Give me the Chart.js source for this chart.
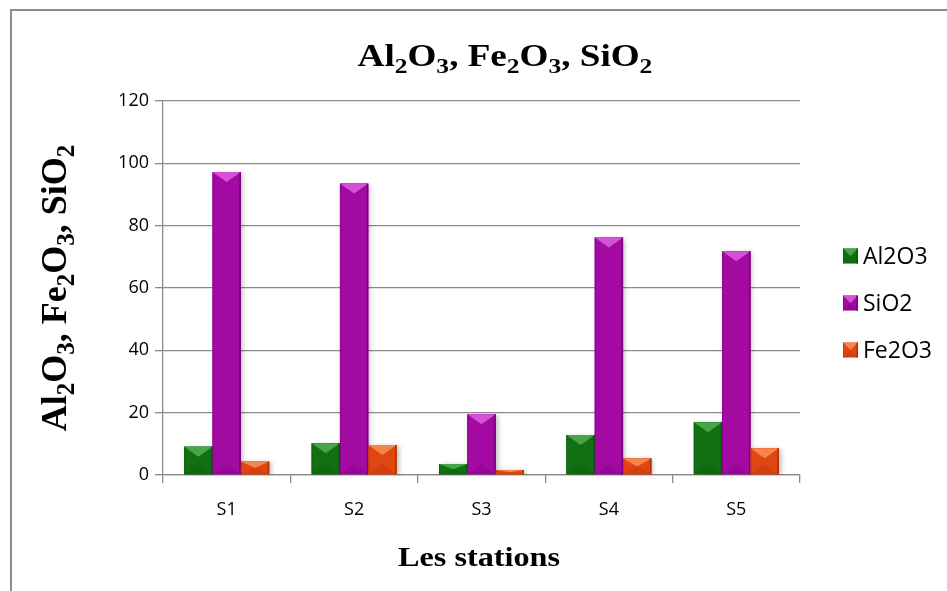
<!DOCTYPE html>
<html>
<head>
<meta charset="utf-8">
<script src="https://cdn.jsdelivr.net/npm/chart.js@4/dist/chart.umd.min.js"></script>
<style>
  html, body { margin: 0; padding: 0; background: #ffffff; }
  #c { display: block; }
</style>
</head>
<body>
<canvas id="c" width="947" height="591"></canvas>
<script>
// Oxide content per sampling station
const stations = ['S1', 'S2', 'S3', 'S4', 'S5'];
const al2o3 = [9.1, 10.2, 3.5, 12.8, 16.9];
const sio2  = [97.2, 93.5, 19.5, 76.2, 71.8];
const fe2o3 = [4.3, 9.6, 1.6, 5.3, 8.6];
const seriesNames = ['Al2O3', 'SiO2', 'Fe2O3'];
const yMin = 0, yMax = 120, yStep = 20;

// fill / highlight / shade for each series
const palette = [
  { fill: '#117011', light: '#46a546', dark: '#0a540a' },
  { fill: '#a20aa2', light: '#d452d4', dark: '#780078' },
  { fill: '#df4612', light: '#f5844f', dark: '#b03006' }
];

const GRID = '#8a8a8a';
const SERIF = '"Liberation Serif", "Times New Roman", serif';
const SANS = '"Open Sans", "Liberation Sans", sans-serif';

// Titles with chemical subscripts: [text, isSubscript]
const titleParts = [['Al',0],['2',1],['O',0],['3',1],[', Fe',0],['2',1],['O',0],['3',1],[', Si',0],['O',0],['2',1]];
const xTitle = 'Les stations';

function drawParts(ctx, parts, size, subSize, subDrop) {
  const mainFont = 'bold ' + size + 'px ' + SERIF;
  const subFont = 'bold ' + subSize + 'px ' + SERIF;
  let total = 0;
  parts.forEach(p => { ctx.font = p[1] ? subFont : mainFont; total += ctx.measureText(p[0]).width; });
  let x = -total / 2;
  ctx.textAlign = 'left';
  ctx.textBaseline = 'alphabetic';
  parts.forEach(p => {
    ctx.font = p[1] ? subFont : mainFont;
    ctx.fillText(p[0], x, p[1] ? subDrop : 0);
    x += ctx.measureText(p[0]).width;
  });
}

function bevelRect(ctx, l, t, r, b, c) {
  const w = r - l, h = b - t;
  if (h <= 0 || w <= 0) return;
  ctx.fillStyle = c.fill;
  ctx.fillRect(l, t, w, h);
  const d = Math.min(10, h / 2);
  const cx = (l + r) / 2;
  // top facet
  ctx.fillStyle = c.light;
  ctx.beginPath();
  ctx.moveTo(l, t); ctx.lineTo(r, t); ctx.lineTo(cx, t + d); ctx.closePath();
  ctx.fill();
  // bottom facet
  ctx.globalAlpha = 0.25;
  ctx.fillStyle = c.dark;
  ctx.beginPath();
  ctx.moveTo(l, b); ctx.lineTo(r, b); ctx.lineTo(cx, b - d); ctx.closePath();
  ctx.fill();
  ctx.globalAlpha = 1;
  // edges
  ctx.fillStyle = c.dark;
  ctx.fillRect(r - 1.5, t, 1.5, h);
  ctx.globalAlpha = 0.5;
  ctx.fillRect(l, t, 1, h);
  ctx.globalAlpha = 1;
}

const decorations = {
  id: 'decorations',
  beforeDraw(chart) {
    const ctx = chart.ctx;
    ctx.save();
    ctx.fillStyle = '#ffffff';
    ctx.fillRect(0, 0, chart.width, chart.height);
    ctx.fillStyle = '#8c8c8c';
    ctx.fillRect(10, 9, chart.width - 10, 2);
    ctx.fillRect(10, 9, 2, chart.height - 9);
    ctx.restore();
  },
  beforeDatasetsDraw(chart) {
    const ctx = chart.ctx;
    ctx.save();
    ctx.shadowColor = 'rgba(0,0,0,0.28)';
    ctx.shadowBlur = 5;
    ctx.shadowOffsetX = 2;
    ctx.shadowOffsetY = 1;
  },
  afterDatasetsDraw(chart) {
    const ctx = chart.ctx;
    ctx.restore();
    ctx.save();
    chart.data.datasets.forEach((ds, i) => {
      const meta = chart.getDatasetMeta(i);
      meta.data.forEach(bar => {
        const p = bar.getProps(['x', 'y', 'base', 'width'], true);
        bevelRect(ctx, p.x - p.width / 2, p.y, p.x + p.width / 2, p.base, palette[i]);
      });
    });
    ctx.restore();
  },
  afterDraw(chart) {
    const ctx = chart.ctx;
    ctx.save();
    ctx.fillStyle = '#000000';
    // main title
    ctx.save();
    ctx.translate(505, 66);
    ctx.scale(1.16, 1);
    drawParts(ctx, titleParts, 32, 22, 7);
    ctx.restore();
    // y axis title
    ctx.save();
    ctx.translate(66, 288);
    ctx.rotate(-Math.PI / 2);
    drawParts(ctx, titleParts, 36, 25, 8);
    ctx.restore();
    // x axis title
    ctx.save();
    ctx.translate(479, 566);
    ctx.scale(1.15, 1);
    ctx.font = 'bold 28px ' + SERIF;
    ctx.textAlign = 'center';
    ctx.textBaseline = 'alphabetic';
    ctx.fillText(xTitle, 0, 0);
    ctx.restore();
    // legend
    const rows = [256, 303, 350];
    chart.data.datasets.forEach((ds, i) => {
      const cy = rows[i];
      bevelRect(ctx, 843, cy - 7.5, 858, cy + 7.5, palette[i]);
      ctx.fillStyle = '#000000';
      ctx.font = '23px ' + SANS;
      ctx.textAlign = 'left';
      ctx.textBaseline = 'middle';
      ctx.fillText(ds.label, 863, cy + 1);
    });
    ctx.restore();
  }
};

const datasets = [al2o3, sio2, fe2o3].map((vals, i) => ({
  label: seriesNames[i],
  data: vals,
  backgroundColor: palette[i].fill,
  borderWidth: 0,
  categoryPercentage: 0.667,
  barPercentage: 1.0
}));

new Chart(document.getElementById('c'), {
  type: 'bar',
  data: { labels: stations, datasets },
  plugins: [decorations],
  options: {
    responsive: false,
    animation: false,
    devicePixelRatio: 1,
    layout: { padding: { left: 100, top: 101, right: 147, bottom: 76 } },
    plugins: {
      legend: { display: false },
      title: { display: false },
      tooltip: { enabled: false }
    },
    scales: {
      x: {
        grid: { display: true, drawOnChartArea: false, drawTicks: true, tickLength: 8, color: GRID, lineWidth: 1.3, offset: true },
        border: { display: true, color: GRID, width: 1.3 },
        ticks: { color: '#000000', font: { family: SANS, size: 18 }, padding: 16 },
        afterFit(scale) { scale.height = 40; }
      },
      y: {
        min: yMin,
        max: yMax,
        grid: { color: GRID, lineWidth: 1.3, tickLength: 8 },
        border: { display: true, color: GRID, width: 1.3 },
        ticks: { stepSize: yStep, color: '#000000', font: { family: SANS, size: 18 }, padding: 6 },
        afterFit(scale) { scale.width = 63; }
      }
    }
  }
});
</script>
</body>
</html>
